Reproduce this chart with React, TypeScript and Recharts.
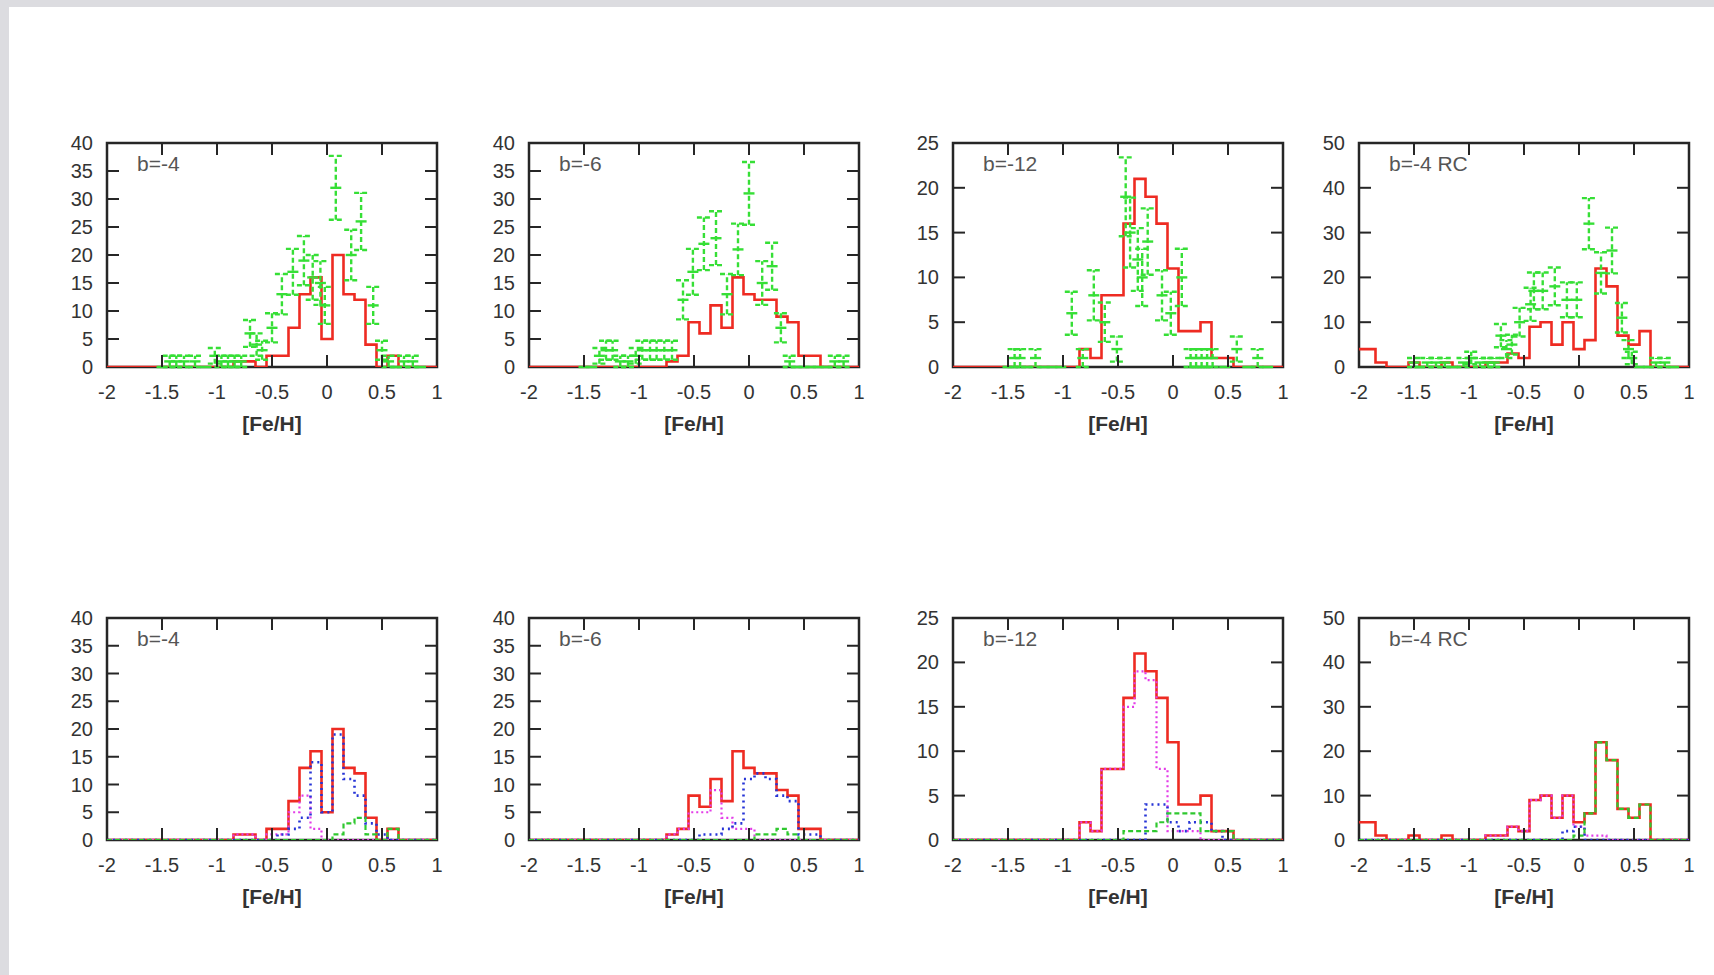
import React from "react";
import {
  ComposedChart,
  ErrorBar,
  Line,
  ReferenceArea,
  Scatter,
  XAxis,
  YAxis,
} from "recharts";

// [Fe/H] bin centres (0.1 dex bins)
const FEH_BINS = [
  -2, -1.9, -1.8, -1.7, -1.6, -1.5, -1.4, -1.3, -1.2, -1.1, -1, -0.9, -0.8, -0.7, -0.6, -0.5,
  -0.4, -0.3, -0.2, -0.1, 0, 0.1, 0.2, 0.3, 0.4, 0.5, 0.6, 0.7, 0.8, 0.9, 1,
];
const X_TICKS = [-2, -1.5, -1, -0.5, 0, 0.5, 1];
const Y_TICKS_40 = [0, 5, 10, 15, 20, 25, 30, 35, 40];
const Y_TICKS_25 = [0, 5, 10, 15, 20, 25];
const Y_TICKS_50 = [0, 10, 20, 30, 40, 50];
const FIELD_LABELS = ["b=-4", "b=-6", "b=-12", "b=-4 RC"];
const BIN_HALF = 0.05;

// model histograms (red), one value per bin
const MODEL_B4 = [0,0,0,0,0,0,0,0,0,0,0,0,1,1,0,2,2,7,13,16,5,20,13,12,4,0,2,0,0,0,0];
const MODEL_B6 = [0,0,0,0,0,0,0,0,0,0,0,0,0,1,2,8,6,11,7,16,13,12,12,9,8,2,2,0,0,0,0];
const MODEL_B12 = [0,0,0,0,0,0,0,0,0,0,0,0,2,1,8,8,16,21,19,16,11,4,4,5,1,1,0,0,0,0,0];
const MODEL_RC = [4,4,1,0,0,1,0,0,1,0,0,0,1,1,3,2,9,10,5,10,4,6,22,18,7,5,8,0,0,0,0];

// model components (bottom row): magenta, blue, green
const MAG_B4 = [0,0,0,0,0,0,0,0,0,0,0,0,1,1,0,1,1,5,8,2,0,0,0,0,0,0,0,0,0,0,0];
const BLUE_B4 = [0,0,0,0,0,0,0,0,0,0,0,0,0,0,0,0,1,2,4,14,5,19,11,8,3,1,0,0,0,0,0];
const GRN_B4 = [0,0,0,0,0,0,0,0,0,0,0,0,0,0,0,0,0,0,0,0,0,1,3,4,1,0,2,0,0,0,0];

const MAG_B6 = [0,0,0,0,0,0,0,0,0,0,0,0,0,1,2,5,5,9,4,2,2,0,0,0,0,0,0,0,0,0,0];
const BLUE_B6 = [0,0,0,0,0,0,0,0,0,0,0,0,0,0,0,0,1,1,2,3,11,12,11,8,7,1,1,0,0,0,0];
const GRN_B6 = [0,0,0,0,0,0,0,0,0,0,0,0,0,0,0,0,0,0,0,0,0,1,1,2,1,0,0,0,0,0,0];

const MAG_B12 = [0,0,0,0,0,0,0,0,0,0,0,0,2,1,8,8,15,19,18,8,1,1,1,0,0,0,0,0,0,0,0];
const BLUE_B12 = [0,0,0,0,0,0,0,0,0,0,0,0,0,0,0,0,0,0,4,4,2,1,2,2,1,0,0,0,0,0,0];
const GRN_B12 = [0,0,0,0,0,0,0,0,0,0,0,0,0,0,0,0,1,1,1,2,3,3,3,1,1,1,0,0,0,0,0];

const MAG_RC = [0,0,0,0,0,0,0,0,0,0,0,0,1,1,3,2,9,10,5,10,3,1,1,0,0,0,0,0,0,0,0];
const BLUE_RC = [0,0,0,0,0,0,0,0,0,0,0,0,0,0,0,0,0,0,0,2,3,0,0,0,0,0,0,0,0,0,0];
const GRN_RC = [0,0,0,0,0,0,0,0,0,0,0,0,0,0,0,0,0,0,0,0,1,6,22,18,7,5,8,0,0,0,0];

// observed counts (green points with errors)
const OBS_B4_X = [-1.5,-1.43,-1.37,-1.3,-1.2,-1.1,-1.02,-0.96,-0.9,-0.84,-0.78,-0.7,-0.64,-0.59,-0.5,-0.41,-0.31,-0.21,-0.13,-0.06,-0.02,0.08,0.22,0.31,0.42,0.5,0.56,0.63,0.7,0.78,0.85];
const OBS_B4_N = [0,1,1,1,1,0,2,1,1,1,1,6,4,3,7,13,17,19,16,15,11,32,20,26,11,3,1,0,1,1,0];
const OBS_B4_ERR = [0,1,1,1,1,0,1.4,1,1,1,1,2.4,2,1.7,2.6,3.6,4.1,4.4,4,3.9,3.3,5.7,4.5,5.1,3.3,1.7,1,0,1,1,0];

const OBS_B6_X = [-1.5,-1.43,-1.36,-1.3,-1.24,-1.17,-1.1,-1.03,-0.97,-0.9,-0.84,-0.77,-0.7,-0.6,-0.51,-0.41,-0.3,-0.2,-0.1,0,0.12,0.21,0.29,0.37,0.43,0.5,0.56,0.63,0.7,0.78,0.86];
const OBS_B6_N = [0,0,2,3,3,1,1,2,3,3,3,3,3,12,17,22,23,13,21,31,15,18,7,1,0,0,0,0,0,1,1];
const OBS_B6_ERR = [0,0,1.4,1.7,1.7,1,1,1.4,1.7,1.7,1.7,1.7,1.7,3.5,4.1,4.7,4.8,3.6,4.6,5.6,3.9,4.2,2.6,1,0,0,0,0,0,1,1];

const OBS_B12_X = [-1.5,-1.44,-1.39,-1.33,-1.25,-1.17,-1.1,-1.02,-0.92,-0.82,-0.72,-0.62,-0.51,-0.43,-0.39,-0.32,-0.28,-0.23,-0.1,-0.02,0.08,0.16,0.21,0.26,0.31,0.36,0.47,0.58,0.68,0.77,0.86];
const OBS_B12_N = [0,1,1,0,1,0,0,0,6,1,8,5,2,19,15,12,10,14,8,6,10,1,1,1,1,1,0,2,0,1,0];
const OBS_B12_ERR = [0,1,1,0,1,0,0,0,2.4,1,2.8,2.2,1.4,4.4,3.9,3.5,3.2,3.7,2.8,2.4,3.2,1,1,1,1,1,0,1.4,0,1,0];

const OBS_RC_X = [-1.5,-1.45,-1.38,-1.3,-1.22,-1.15,-1.05,-0.98,-0.9,-0.83,-0.77,-0.71,-0.66,-0.61,-0.54,-0.44,-0.41,-0.33,-0.22,-0.11,-0.02,0.09,0.2,0.3,0.39,0.45,0.48,0.55,0.63,0.7,0.78,0.86];
const OBS_RC_N = [1,0,1,1,1,0,1,2,1,1,1,7,4,5,10,14,17,17,18,15,15,32,21,26,11,4,2,0,0,1,1,0];
const OBS_RC_ERR = [1,0,1,1,1,0,1,1.4,1,1,1,2.6,2,2.2,3.2,3.7,4.1,4.1,4.2,3.9,3.9,5.7,4.6,5.1,3.3,2,1.4,0,0,1,1,0];

const PLOT_W = 330;
// axes take 1px each so that recharts still draws their ticks
const M = { top: 20, right: 20, bottom: 79, left: 69 };
const TICK = 12;
const INK = "#262626";
const FONT = "'Liberation Sans', Arial, sans-serif";

const toSeries = (vals: number[]) => FEH_BINS.map((x, i) => ({ x, v: vals[i] }));
const toObs = (xs: number[], ns: number[], errs: number[]) =>
  xs.map((x, i) => ({ x, v: ns[i], ey: errs[i], ex: BIN_HALF }));

type Part = { vals: number[]; color: string; dash: string; width: number };

interface PanelProps {
  left: number;
  top: number;
  h: number;
  yMax: number;
  yTicks: number[];
  label: string;
  model: number[];
  obs?: { x: number; v: number; ey: number; ex: number }[];
  parts?: Part[];
}

const Panel = ({ left, top, h, yMax, yTicks, label, model, obs, parts }: PanelProps) => {
  const xTick = (p: any) => {
    const { x, y, payload } = p;
    const v = payload.value;
    const inner = v > -2 && v < 1;
    return (
      <g>
        {inner && <line x1={x} x2={x} y1={y} y2={y - TICK} stroke={INK} strokeWidth={2} />}
        {inner && <line x1={x} x2={x} y1={y - h} y2={y - h + TICK} stroke={INK} strokeWidth={2} />}
        <text x={x} y={y + 25} textAnchor="middle" dominantBaseline="central" fontSize={20} fill="#333" fontFamily={FONT}>
          {String(v)}
        </text>
      </g>
    );
  };
  const yTick = (p: any) => {
    const { x, y, payload } = p;
    const v = payload.value;
    const inner = v > 0 && v < yMax;
    return (
      <g>
        {inner && <line x1={x} x2={x + TICK} y1={y} y2={y} stroke={INK} strokeWidth={2} />}
        {inner && <line x1={x + PLOT_W} x2={x + PLOT_W - TICK} y1={y} y2={y} stroke={INK} strokeWidth={2} />}
        <text x={x - 14} y={y} textAnchor="end" dominantBaseline="central" fontSize={20} fill="#333" fontFamily={FONT}>
          {String(v)}
        </text>
      </g>
    );
  };

  return (
    <div style={{ position: "absolute", left: left - M.left - 1, top: top - M.top }}>
      <ComposedChart width={M.left + 1 + PLOT_W + M.right} height={M.top + h + 1 + M.bottom} margin={M}>
        <XAxis
          dataKey="x"
          type="number"
          domain={[-2, 1]}
          ticks={X_TICKS}
          interval={0}
          allowDataOverflow
          height={1}
          tickSize={0}
          tickMargin={0}
          axisLine={false}
          tickLine={false}
          tick={xTick}
        />
        <YAxis
          type="number"
          domain={[0, yMax]}
          ticks={yTicks}
          interval={0}
          allowDataOverflow
          width={1}
          tickSize={0}
          tickMargin={0}
          axisLine={false}
          tickLine={false}
          tick={yTick}
        />
        <ReferenceArea x1={-2} x2={1} y1={0} y2={yMax} fill="none" stroke={INK} strokeWidth={2.5} ifOverflow="visible" />
        <Line
          data={toSeries(model)}
          dataKey="v"
          type="step"
          stroke="#ee2b22"
          strokeWidth={2.6}
          dot={false}
          activeDot={false}
          isAnimationActive={false}
        />
        {parts &&
          parts.map((pt, i) => (
            <Line
              key={i}
              data={toSeries(pt.vals)}
              dataKey="v"
              type="step"
              stroke={pt.color}
              strokeWidth={pt.width}
              strokeDasharray={pt.dash}
              dot={false}
              activeDot={false}
              isAnimationActive={false}
            />
          ))}
        {obs && (
          <Scatter data={obs} dataKey="v" shape={() => <g />} isAnimationActive={false}>
            <ErrorBar dataKey="ey" direction="y" width={7} stroke="#36df36" strokeWidth={2.4} strokeDasharray="5 3" isAnimationActive={false} />
            <ErrorBar dataKey="ex" direction="x" width={0} stroke="#36df36" strokeWidth={2.4} isAnimationActive={false} />
          </Scatter>
        )}
      </ComposedChart>
      <div
        style={{
          position: "absolute",
          left: M.left + 31,
          top: M.top + 10,
          fontSize: 21,
          lineHeight: "22px",
          color: "#555",
          fontFamily: FONT,
          whiteSpace: "nowrap",
        }}
      >
        {label}
      </div>
      <div
        style={{
          position: "absolute",
          left: M.left + 1,
          width: PLOT_W,
          top: M.top + h + 45,
          textAlign: "center",
          fontSize: 21,
          lineHeight: "24px",
          fontWeight: "bold",
          color: "#333",
          fontFamily: FONT,
        }}
      >
        [Fe/H]
      </div>
    </div>
  );
};

const COLS = [107, 529, 953, 1359];
const TOP_ROW = { top: 143, h: 224 };
const BOTTOM_ROW = { top: 618, h: 222 };

const MAGENTA = "#e33ce8";
const BLUE = "#2634d6";
const GREEN = "#2fc82f";

const parts = (mag: number[], blue: number[], grn: number[]): Part[] => [
  { vals: mag, color: MAGENTA, dash: "2 3", width: 2.2 },
  { vals: blue, color: BLUE, dash: "2 4", width: 2.6 },
  { vals: grn, color: GREEN, dash: "5 3", width: 2.2 },
];

export default function App() {
  const cfg = [
    { yMax: 40, yTicks: Y_TICKS_40, model: MODEL_B4, obs: toObs(OBS_B4_X, OBS_B4_N, OBS_B4_ERR), comps: parts(MAG_B4, BLUE_B4, GRN_B4) },
    { yMax: 40, yTicks: Y_TICKS_40, model: MODEL_B6, obs: toObs(OBS_B6_X, OBS_B6_N, OBS_B6_ERR), comps: parts(MAG_B6, BLUE_B6, GRN_B6) },
    { yMax: 25, yTicks: Y_TICKS_25, model: MODEL_B12, obs: toObs(OBS_B12_X, OBS_B12_N, OBS_B12_ERR), comps: parts(MAG_B12, BLUE_B12, GRN_B12) },
    { yMax: 50, yTicks: Y_TICKS_50, model: MODEL_RC, obs: toObs(OBS_RC_X, OBS_RC_N, OBS_RC_ERR), comps: parts(MAG_RC, BLUE_RC, GRN_RC) },
  ];
  return (
    <div style={{ position: "absolute", left: 0, top: 0, width: 1714, height: 975, background: "#dcdce0", overflow: "hidden" }}>
      <div style={{ position: "absolute", left: 9, top: 7, right: 0, bottom: 0, background: "#ffffff" }}>
        <div style={{ position: "absolute", left: -9, top: -7 }}>
          {cfg.map((c, i) => (
            <Panel
              key={"t" + i}
              left={COLS[i]}
              top={TOP_ROW.top}
              h={TOP_ROW.h}
              yMax={c.yMax}
              yTicks={c.yTicks}
              label={FIELD_LABELS[i]}
              model={c.model}
              obs={c.obs}
            />
          ))}
          {cfg.map((c, i) => (
            <Panel
              key={"b" + i}
              left={COLS[i]}
              top={BOTTOM_ROW.top}
              h={BOTTOM_ROW.h}
              yMax={c.yMax}
              yTicks={c.yTicks}
              label={FIELD_LABELS[i]}
              model={c.model}
              parts={c.comps}
            />
          ))}
        </div>
      </div>
    </div>
  );
}
